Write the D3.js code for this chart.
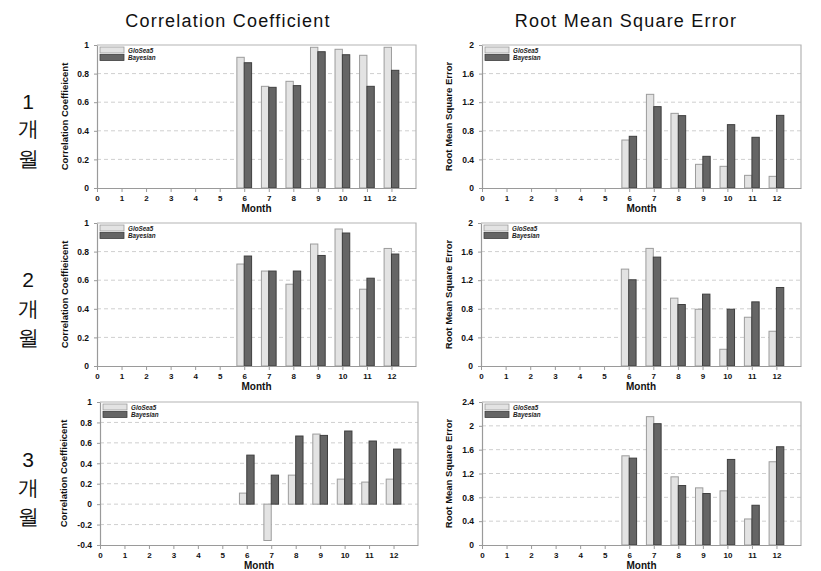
<!DOCTYPE html>
<html>
<head>
<meta charset="utf-8">
<script src="https://cdn.jsdelivr.net/npm/d3@7"></script>
<style>
  html, body { margin: 0; padding: 0; background: #fff; }
  svg { display: block; }
  text { font-family: "Liberation Sans", Arial, sans-serif; }
</style>
</head>
<body>
<svg id="chart" width="821" height="571"></svg>
<script>
// ---------- DATA ----------
const months = [1, 2, 3, 4, 5, 6, 7, 8, 9, 10, 11, 12];
const xTicks = [0, 1, 2, 3, 4, 5, 6, 7, 8, 9, 10, 11, 12];
const seriesNames = ["GloSea5", "Bayesian"];
const columnTitles = ["Correlation Coefficient", "Root Mean Square Error"];
const rowLabels = [["1", "개", "월"], ["2", "개", "월"], ["3", "개", "월"]];
const ccAxisTitle = "Correlation Coeffieicent";
const rmseAxisTitle = "Root Mean Square Error";
const xAxisTitle = "Month";

// Lead 1 month
const cc1Glo  = [null, null, null, null, null, 0.914, 0.711, 0.746, 0.984, 0.970, 0.928, 0.984];
const cc1Bay  = [null, null, null, null, null, 0.876, 0.704, 0.716, 0.953, 0.932, 0.711, 0.823];
const rm1Glo  = [null, null, null, null, null, 0.671, 1.310, 1.044, 0.331, 0.303, 0.177, 0.163];
const rm1Bay  = [null, null, null, null, null, 0.723, 1.138, 1.012, 0.443, 0.886, 0.709, 1.016];
// Lead 2 months
const cc2Glo  = [null, null, null, null, null, 0.713, 0.664, 0.572, 0.853, 0.958, 0.537, 0.822];
const cc2Bay  = [null, null, null, null, null, 0.769, 0.664, 0.664, 0.773, 0.930, 0.614, 0.783];
const rm2Glo  = [null, null, null, null, null, 1.355, 1.645, 0.949, 0.794, 0.234, 0.682, 0.486];
const rm2Bay  = [null, null, null, null, null, 1.206, 1.523, 0.860, 1.005, 0.794, 0.897, 1.098];
// Lead 3 months
const cc3Glo  = [0, 0, 0, 0, 0, 0.108, -0.356, 0.284, 0.686, 0.245, 0.216, 0.245];
const cc3Bay  = [0, 0, 0, 0, 0, 0.480, 0.284, 0.667, 0.673, 0.716, 0.618, 0.539];
const rm3Glo  = [null, null, null, null, null, 1.497, 2.154, 1.144, 0.959, 0.909, 0.437, 1.397];
const rm3Bay  = [null, null, null, null, null, 1.458, 2.036, 0.998, 0.864, 1.436, 0.667, 1.649];

// Y tick values
const ccTicks   = [0, 0.2, 0.4, 0.6, 0.8, 1];
const cc3Ticks  = [-0.4, -0.2, 0, 0.2, 0.4, 0.6, 0.8, 1];
const rmTicks   = [0, 0.4, 0.8, 1.2, 1.6, 2];
const rm3Ticks  = [0, 0.4, 0.8, 1.2, 1.6, 2, 2.4];

// ---------- DRAW ----------
const svg = d3.select("#chart");
const FILL_LIGHT = "#e3e3e3", STROKE_LIGHT = "#9c9c9c";
const FILL_DARK = "#656565", STROKE_DARK = "#3f3f3f";
const FRAME = "#b4b4b4", AXIS = "#9a9a9a", GRID = "#cfcfcf";

function drawPanel(cfg) {
  const g = svg.append("g");
  const x = d3.scaleLinear().domain([0, 13]).range([cfg.left, cfg.right]);
  const y = d3.scaleLinear().domain([cfg.ticks[0], cfg.ticks[cfg.ticks.length - 1]]).range([cfg.bottom, cfg.top]);
  const step = x(1) - x(0);
  const bw = step * 0.3;

  // grid lines
  g.selectAll("line.grid").data(cfg.ticks.slice(1, -1)).join("line")
    .attr("x1", cfg.left).attr("x2", cfg.right)
    .attr("y1", d => y(d)).attr("y2", d => y(d))
    .attr("stroke", GRID).attr("stroke-width", 1).attr("stroke-dasharray", "4,3");

  // frame top & right
  g.append("path")
    .attr("d", `M${cfg.left},${cfg.top}H${cfg.right}V${cfg.bottom}`)
    .attr("fill", "none").attr("stroke", FRAME).attr("stroke-width", 1.2);

  // bars
  const series = [
    { vals: cfg.glo, off: -bw, fill: FILL_LIGHT, stroke: STROKE_LIGHT },
    { vals: cfg.bay, off: 0, fill: FILL_DARK, stroke: STROKE_DARK }
  ];
  series.forEach(s => {
    const data = months.map((m, i) => ({ m, v: s.vals[i] })).filter(d => d.v !== null);
    g.selectAll(null).data(data).join("rect")
      .attr("x", d => x(d.m) + s.off)
      .attr("y", d => Math.min(y(d.v), y(0)))
      .attr("width", bw)
      .attr("height", d => Math.abs(y(d.v) - y(0)))
      .attr("fill", s.fill).attr("stroke", s.stroke).attr("stroke-width", 1);
  });

  // x axis
  const xa = g.append("g").attr("transform", `translate(0,${cfg.bottom})`)
    .call(d3.axisBottom(x).tickValues(xTicks).tickSize(4).tickSizeOuter(0).tickPadding(3));
  xa.select(".domain").attr("stroke", AXIS).attr("stroke-width", 1.2);
  xa.selectAll(".tick line").attr("stroke", AXIS);
  xa.selectAll(".tick text").attr("font-size", 8).attr("font-weight", "bold")
    .attr("font-family", "Liberation Sans, Arial, sans-serif").attr("fill", "#111");

  // y axis
  const ya = g.append("g").attr("transform", `translate(${cfg.left},0)`)
    .call(d3.axisLeft(y).tickValues(cfg.ticks).tickSize(3).tickSizeOuter(0).tickPadding(5)
      .tickFormat(d => String(+d.toFixed(2))));
  ya.select(".domain").attr("stroke", AXIS).attr("stroke-width", 1.2);
  ya.selectAll(".tick line").attr("stroke", AXIS);
  ya.selectAll(".tick text").attr("font-size", 8.5).attr("font-weight", "bold")
    .attr("font-family", "Liberation Sans, Arial, sans-serif").attr("fill", "#111");

  // axis titles
  g.append("text")
    .attr("x", (cfg.left + cfg.right) / 2).attr("y", cfg.bottom + 24)
    .attr("text-anchor", "middle").attr("font-size", 10).attr("font-weight", "bold")
    .attr("fill", "#111").text(xAxisTitle);
  g.append("text")
    .attr("transform", `translate(${cfg.ytx},${(cfg.top + cfg.bottom) / 2}) rotate(-90)`)
    .attr("text-anchor", "middle").attr("font-size", 9.5).attr("font-weight", "bold")
    .attr("fill", "#111").text(cfg.ytitle);

  // legend
  const lx = cfg.left + 3, ly = cfg.top + 2;
  const sw = 24, sh = 6;
  [FILL_LIGHT, FILL_DARK].forEach((f, i) => {
    g.append("rect").attr("x", lx).attr("y", ly + i * (sh + 1.5)).attr("width", sw).attr("height", sh)
      .attr("fill", f).attr("stroke", i === 0 ? STROKE_LIGHT : STROKE_DARK).attr("stroke-width", 0.8);
    g.append("text").attr("x", lx + sw + 4).attr("y", ly + i * (sh + 1.5) + sh - 0.5)
      .attr("font-size", 6.3).attr("font-weight", "bold").attr("font-style", "italic")
      .attr("fill", "#222").text(seriesNames[i]);
  });
}

const rows = [
  { top: 45, bottom: 188 },
  { top: 223, bottom: 366 },
  { top: 402, bottom: 545 }
];

drawPanel({ left: 97, right: 416, top: rows[0].top, bottom: rows[0].bottom, ticks: ccTicks, glo: cc1Glo, bay: cc1Bay, ytitle: ccAxisTitle, ytx: 68 });
drawPanel({ left: 482, right: 801, top: rows[0].top, bottom: rows[0].bottom, ticks: rmTicks, glo: rm1Glo, bay: rm1Bay, ytitle: rmseAxisTitle, ytx: 452 });
drawPanel({ left: 97, right: 416, top: rows[1].top, bottom: rows[1].bottom, ticks: ccTicks, glo: cc2Glo, bay: cc2Bay, ytitle: ccAxisTitle, ytx: 68 });
drawPanel({ left: 481, right: 801, top: rows[1].top, bottom: rows[1].bottom, ticks: rmTicks, glo: rm2Glo, bay: rm2Bay, ytitle: rmseAxisTitle, ytx: 452 });
drawPanel({ left: 100, right: 418, top: rows[2].top, bottom: rows[2].bottom, ticks: cc3Ticks, glo: cc3Glo, bay: cc3Bay, ytitle: ccAxisTitle, ytx: 67 });
drawPanel({ left: 482, right: 801, top: rows[2].top, bottom: rows[2].bottom, ticks: rm3Ticks, glo: rm3Glo, bay: rm3Bay, ytitle: rmseAxisTitle, ytx: 452 });

// column titles
svg.append("text").attr("x", 228).attr("y", 27).attr("text-anchor", "middle")
  .attr("font-size", 18).attr("letter-spacing", 1.2).attr("fill", "#111").text(columnTitles[0]);
svg.append("text").attr("x", 626).attr("y", 27).attr("text-anchor", "middle")
  .attr("font-size", 18).attr("letter-spacing", 1.2).attr("fill", "#111").text(columnTitles[1]);

// row labels
const rowLabelY = [[109, 136, 166], [287, 316, 345], [467, 495, 524]];
rowLabels.forEach((lab, r) => {
  lab.forEach((t, k) => {
    svg.append("text").attr("x", 28).attr("y", rowLabelY[r][k]).attr("text-anchor", "middle")
      .attr("font-size", 21).attr("fill", "#111")
      .attr("font-family", k === 0 ? "Liberation Sans, Arial, sans-serif" : "Noto Sans CJK KR, sans-serif")
      .text(t);
  });
});
</script>
</body>
</html>
